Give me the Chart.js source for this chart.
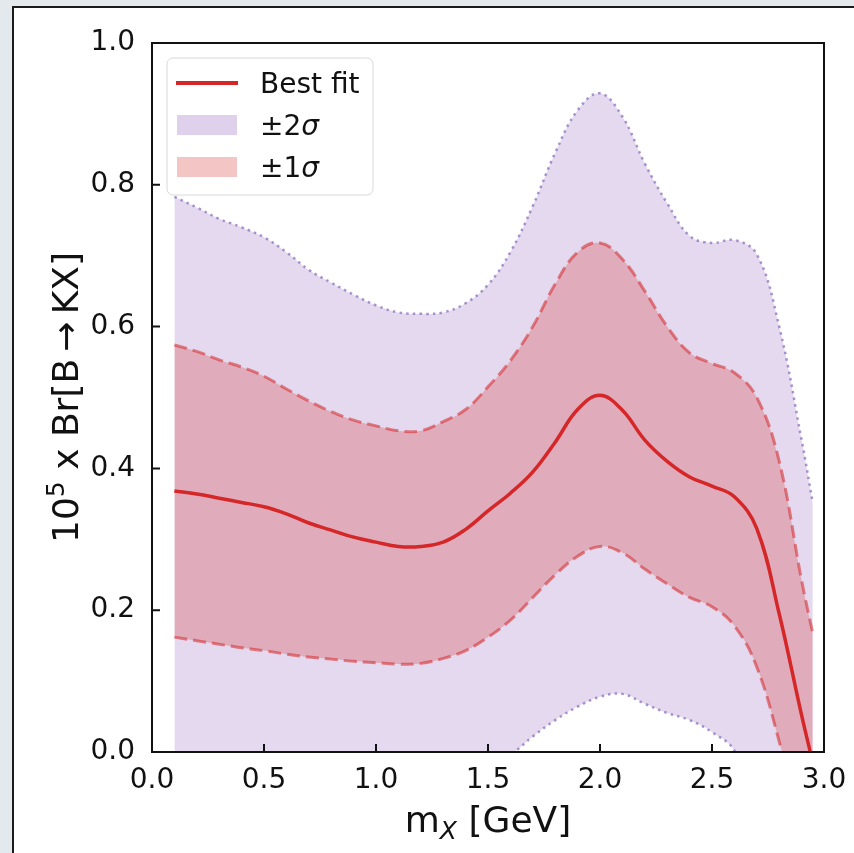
<!DOCTYPE html>
<html>
<head>
<meta charset="utf-8">
<script src="https://cdn.jsdelivr.net/npm/chart.js@4.4.1/dist/chart.umd.min.js"></script>
<style>
  html, body { margin: 0; padding: 0; background: #e4e9ee; overflow: hidden; }
  #panel { position: absolute; left: 12px; top: 6px; width: 900px; height: 900px; background: #fff; border: 2px solid #1b1b1b; }
  #wrap { position: absolute; left: 0; top: 0; width: 854px; height: 853px; }
</style>
</head>
<body>
<div id="panel"></div>
<div id="wrap"><canvas id="chart" width="854" height="853"></canvas></div>
<script>
// m_X en GeV
const xs      = [0.1, 0.2, 0.3, 0.4, 0.5, 0.6, 0.7, 0.8, 0.9, 1.0, 1.1, 1.2, 1.3, 1.4, 1.5, 1.6, 1.7, 1.8, 1.9, 2.0, 2.1, 2.2, 2.3, 2.4, 2.5, 2.6, 2.7, 2.8, 2.9, 2.95];
// best fit
const bestFit = [0.368, 0.364, 0.358, 0.352, 0.346, 0.336, 0.323, 0.313, 0.303, 0.296, 0.290, 0.290, 0.296, 0.314, 0.340, 0.365, 0.395, 0.437, 0.483, 0.503, 0.482, 0.440, 0.410, 0.388, 0.375, 0.360, 0.315, 0.195, 0.052, -0.015];
// +/- 1 sigma
const up1     = [0.574, 0.565, 0.553, 0.543, 0.530, 0.512, 0.495, 0.480, 0.468, 0.460, 0.453, 0.453, 0.466, 0.483, 0.515, 0.552, 0.600, 0.660, 0.705, 0.718, 0.695, 0.650, 0.600, 0.563, 0.548, 0.535, 0.500, 0.410, 0.242, 0.167];
const low1    = [0.162, 0.157, 0.152, 0.147, 0.143, 0.138, 0.134, 0.131, 0.128, 0.126, 0.124, 0.125, 0.132, 0.143, 0.162, 0.186, 0.218, 0.250, 0.276, 0.290, 0.281, 0.258, 0.237, 0.218, 0.205, 0.178, 0.120, 0.015, -0.110, -0.170];
// +/- 2 sigma
const up2     = [0.783, 0.768, 0.752, 0.740, 0.726, 0.705, 0.680, 0.662, 0.645, 0.630, 0.620, 0.618, 0.620, 0.633, 0.659, 0.705, 0.770, 0.845, 0.905, 0.929, 0.896, 0.830, 0.774, 0.728, 0.718, 0.722, 0.702, 0.600, 0.440, 0.351];
const low2    = [-0.050, -0.045, -0.042, -0.040, -0.038, -0.036, -0.035, -0.037, -0.040, -0.040, -0.040, -0.038, -0.030, -0.022, -0.012, -0.003, 0.022, 0.045, 0.064, 0.078, 0.082, 0.068, 0.055, 0.045, 0.028, 0.002, -0.080, -0.200, -0.350, -0.400];

const pts = arr => xs.map((x, i) => ({ x: x, y: arr[i] }));

const RED = '#d62728';
const FONT = '"DejaVu Sans", sans-serif';

// cadre + graduations vers l'intérieur
const frame = {
  id: 'frame',
  afterDatasetsDraw(chart) {
    const { ctx, chartArea: a, scales: { x, y } } = chart;
    ctx.save();
    ctx.strokeStyle = '#111';
    ctx.lineWidth = 2;
    ctx.strokeRect(a.left, a.top, a.right - a.left, a.bottom - a.top);
    ctx.beginPath();
    x.ticks.forEach(t => {
      const px = x.getPixelForValue(t.value);
      ctx.moveTo(px, a.bottom); ctx.lineTo(px, a.bottom - 8);
    });
    y.ticks.forEach(t => {
      const py = y.getPixelForValue(t.value);
      ctx.moveTo(a.left, py); ctx.lineTo(a.left + 8, py);
    });
    ctx.stroke();
    ctx.restore();
  }
};

// titres des axes (indice / exposant)
const titles = {
  id: 'titles',
  afterDraw(chart) {
    const { ctx, chartArea: a } = chart;
    ctx.save();
    ctx.fillStyle = '#111';
    ctx.textBaseline = 'alphabetic';

    // axe x : m_X [GeV]
    const big = '36px ' + FONT, sub = 'italic 25px ' + FONT;
    ctx.font = big; const w1 = ctx.measureText('m').width, w3 = ctx.measureText(' [GeV]').width;
    ctx.font = sub; const w2 = ctx.measureText('X').width;
    let x0 = (a.left + a.right) / 2 - (w1 + w2 + w3) / 2;
    const yb = 832;
    ctx.font = big; ctx.fillText('m', x0, yb);
    ctx.font = sub; ctx.fillText('X', x0 + w1, yb + 7);
    ctx.font = big; ctx.fillText(' [GeV]', x0 + w1 + w2, yb);

    // axe y : 10^5 x Br[B -> KX]
    const parts = [['10', big, 0], ['5', '25px ' + FONT, -14], [' x Br[B\u2009\u2192\u2009KX]', big, 0]];
    let total = 0;
    parts.forEach(p => { ctx.font = p[1]; total += ctx.measureText(p[0]).width; });
    ctx.translate(78, (a.top + a.bottom) / 2);
    ctx.rotate(-Math.PI / 2);
    let cx = -total / 2;
    parts.forEach(p => {
      ctx.font = p[1];
      ctx.fillText(p[0], cx, p[2]);
      cx += ctx.measureText(p[0]).width;
    });
    ctx.restore();
  }
};

// légende dans le coin haut gauche
const legendBox = {
  id: 'legendBox',
  afterDraw(chart) {
    const { ctx } = chart;
    ctx.save();
    ctx.beginPath();
    ctx.roundRect(167, 58, 206, 137, 6);
    ctx.fillStyle = 'rgba(255,255,255,0.8)';
    ctx.fill();
    ctx.strokeStyle = '#d8d8d8';
    ctx.lineWidth = 1;
    ctx.stroke();

    ctx.strokeStyle = RED;
    ctx.lineWidth = 4;
    ctx.beginPath(); ctx.moveTo(176, 83); ctx.lineTo(238, 83); ctx.stroke();

    ctx.fillStyle = 'rgba(148,103,189,0.3)';
    ctx.fillRect(177, 115, 60, 20);
    ctx.fillStyle = 'rgba(214,39,40,0.27)';
    ctx.fillRect(177, 157, 60, 20);

    ctx.fillStyle = '#111';
    ctx.textBaseline = 'alphabetic';
    ctx.font = '28px ' + FONT;
    ctx.fillText('Best fit', 260, 93);
    [['\u00b12', 135], ['\u00b11', 177]].forEach(([t, yb]) => {
      ctx.font = '28px ' + FONT;
      ctx.fillText(t, 260, yb);
      const w = ctx.measureText(t).width;
      ctx.font = 'italic 28px ' + FONT;
      ctx.fillText('\u03c3', 260 + w, yb);
    });
    ctx.restore();
  }
};

const ctx = document.getElementById('chart').getContext('2d');

const chart = new Chart(ctx, {
  type: 'line',
  data: {
    datasets: [
      { label: 'Best fit', data: pts(bestFit), borderColor: RED, borderWidth: 3.5, fill: false },
      { label: '+1 sigma', data: pts(up1), borderColor: 'rgba(214,39,40,0.55)', borderWidth: 3, borderDash: [13, 6],
        backgroundColor: 'rgba(214,39,40,0.25)', fill: '+1' },
      { label: '-1 sigma', data: pts(low1), borderColor: 'rgba(214,39,40,0.55)', borderWidth: 3, borderDash: [13, 6], fill: false },
      { label: '+2 sigma', data: pts(up2), borderColor: 'rgba(140,115,190,0.75)', borderWidth: 2.5, borderDash: [2.5, 4.2],
        backgroundColor: 'rgba(148,103,189,0.25)', fill: '+1' },
      { label: '-2 sigma', data: pts(low2), borderColor: 'rgba(140,115,190,0.75)', borderWidth: 2.5, borderDash: [2.5, 4.2], fill: false }
    ]
  },
  options: {
    responsive: false,
    animation: false,
    layout: { padding: { left: 0, right: 30, top: 43, bottom: 0 } },
    elements: {
      point: { radius: 0 },
      line: { tension: 0.4 }
    },
    datasets: { line: { clip: 0 } },
    scales: {
      x: {
        type: 'linear', min: 0, max: 3,
        grid: { display: false, drawTicks: false, tickLength: 0 },
        border: { display: false },
        ticks: { stepSize: 0.5, padding: 12, color: '#111', font: { family: FONT, size: 28 },
                 callback: v => v.toFixed(1), maxRotation: 0 },
        afterFit: s => { s.height = 101; s.paddingLeft = 0; s.paddingRight = 0; }
      },
      y: {
        min: 0, max: 1,
        grid: { display: false, drawTicks: false, tickLength: 0 },
        border: { display: false },
        ticks: { stepSize: 0.2, padding: 17, color: '#111', font: { family: FONT, size: 28 },
                 callback: v => v.toFixed(1) },
        afterFit: s => { s.width = 152; s.paddingTop = 0; s.paddingBottom = 0; }
      }
    },
    plugins: {
      legend: { display: false },
      tooltip: { enabled: false },
      filler: { drawTime: 'beforeDatasetsDraw' }
    }
  },
  plugins: [frame, titles, legendBox]
});
</script>
</body>
</html>
